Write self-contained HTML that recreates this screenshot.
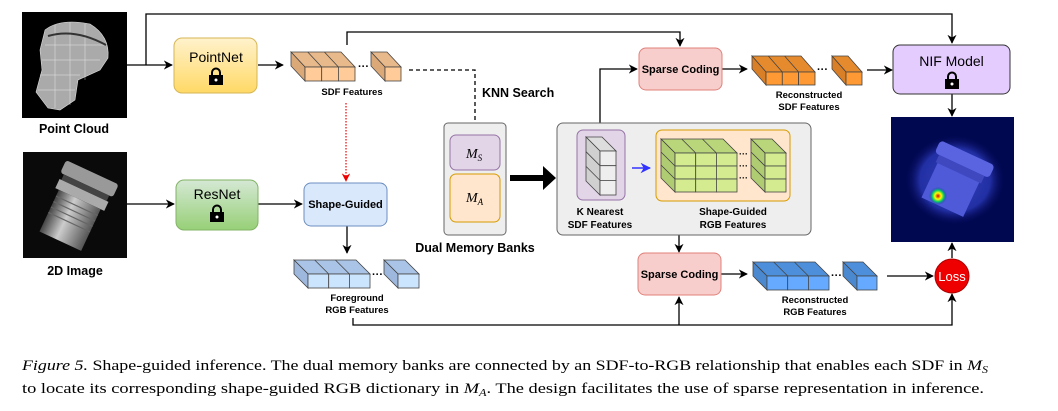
<!DOCTYPE html>
<html><head><meta charset="utf-8"><style>
html,body{margin:0;padding:0;background:#fff;width:1058px;height:411px;overflow:hidden}
svg{display:block}
.b{font-family:"Liberation Sans",sans-serif;font-weight:bold;fill:#000}
.n{font-family:"Liberation Sans",sans-serif;font-size:14px;fill:#000}
.cap{font-family:"Liberation Serif",serif;fill:#000}
</style></head><body>
<svg width="1058" height="411" viewBox="0 0 1058 411" xmlns="http://www.w3.org/2000/svg">
<defs>
<marker id="ar" viewBox="0 0 10 10" refX="9" refY="5" markerWidth="7" markerHeight="7" orient="auto-start-reverse"><path d="M0,0 L10,5 L0,10 L3,5 z" fill="#000"/></marker>
<marker id="arr" viewBox="0 0 10 10" refX="9" refY="5" markerWidth="7" markerHeight="7" orient="auto"><path d="M0,0 L10,5 L0,10 L3,5 z" fill="#e00"/></marker>
<marker id="arb" viewBox="0 0 10 10" refX="9" refY="5" markerWidth="7" markerHeight="7" orient="auto"><path d="M0,0 L10,5 L0,10 L3,5 z" fill="#33f"/></marker>
<radialGradient id="hot" cx="0.5" cy="0.5" r="0.5"><stop offset="0" stop-color="#c00"/><stop offset="0.35" stop-color="#ff0"/><stop offset="0.65" stop-color="#0c6"/><stop offset="1" stop-color="#22a" stop-opacity="0"/></radialGradient>
<radialGradient id="glow" cx="0.5" cy="0.5" r="0.5"><stop offset="0" stop-color="#4a5ae8"/><stop offset="0.7" stop-color="#3040c8"/><stop offset="1" stop-color="#0a0a60" stop-opacity="0"/></radialGradient>
<linearGradient id="gy" x1="0" y1="0" x2="0" y2="1"><stop offset="0" stop-color="#fff2cc"/><stop offset="1" stop-color="#ffd966"/></linearGradient>
<linearGradient id="gg" x1="0" y1="0" x2="0" y2="1"><stop offset="0" stop-color="#d5e8d4"/><stop offset="1" stop-color="#97d077"/></linearGradient>
<linearGradient id="cyl" x1="0" y1="0" x2="1" y2="0"><stop offset="0" stop-color="#444"/><stop offset="0.4" stop-color="#ccc"/><stop offset="1" stop-color="#555"/></linearGradient>
</defs>

<rect x="22" y="12" width="105" height="106" fill="#000"/>
<g fill="#aaa" stroke="#ddd" stroke-width="0.6">
<path d="M45,30 Q60,18 90,24 Q110,36 108,58 L100,70 L78,80 L75,100 L60,110 L48,108 L36,92 L42,70 L40,50 Z"/>
</g>
<g stroke="#fff" stroke-width="0.5" opacity="0.7">
<path d="M45,45 L105,45 M42,60 L100,60 M40,75 L80,75 M38,90 L75,90 M55,25 L55,108 M70,22 L70,105 M85,24 L85,80"/>
</g>
<path d="M48,36 Q75,28 106,45" stroke="#333" stroke-width="2" fill="none"/>

<rect x="23" y="152" width="104" height="106" fill="#0a0a0a"/>
<g transform="rotate(25 75 205)">
<rect x="48" y="168" width="58" height="14" rx="3" fill="#999"/>
<rect x="52" y="182" width="50" height="6" fill="#444"/>
<rect x="50" y="188" width="54" height="10" fill="#aaa"/>
<rect x="54" y="198" width="46" height="46" fill="url(#cyl)"/>
<path d="M54,205 H100 M54,211 H100 M54,217 H100 M54,223 H100" stroke="#666" stroke-width="1.2"/>
</g>

<text class="b" x="74" y="133" text-anchor="middle" font-size="12.5">Point Cloud</text>
<text class="b" x="75" y="275" text-anchor="middle" font-size="12.5">2D Image</text>

<g stroke="#000" stroke-width="1.3" fill="none">
<path d="M126,65 H172" marker-end="url(#ar)"/>
<path d="M146,65 V14 H952 V43" marker-end="url(#ar)"/>
<path d="M258,65 H283" marker-end="url(#ar)"/>
<path d="M347,45 V32 H680 V46" marker-end="url(#ar)"/>
<path d="M409,70 H475 V132" stroke-dasharray="4,3" marker-end="url(#ar)"/>
<path d="M127,204 H174" marker-end="url(#ar)"/>
<path d="M258,204 H302" marker-end="url(#ar)"/>
<path d="M347,226 V253" marker-end="url(#ar)"/>
<path d="M600,130 V69 H637" marker-end="url(#ar)"/>
<path d="M722,69 H747" marker-end="url(#ar)"/>
<path d="M867,70 H892" marker-end="url(#ar)"/>
<path d="M952,94 V116" marker-end="url(#ar)"/>
<path d="M679,201 V252" marker-end="url(#ar)"/>
<path d="M721,274 H747" marker-end="url(#ar)"/>
<path d="M887,276 H933" marker-end="url(#ar)"/>
<path d="M952,258 V243" marker-end="url(#ar)"/>
<path d="M353,318 V325 H952 V294" marker-end="url(#ar)"/>
<path d="M679,325 V297" marker-end="url(#ar)"/>
</g>
<path d="M346,103 V181" stroke="#e00" stroke-width="1.2" stroke-dasharray="1.5,1.5" fill="none" marker-end="url(#arr)"/>
<text class="b" x="482" y="97" font-size="12.5">KNN Search</text>

<rect x="174" y="38" width="83" height="55" rx="8" fill="url(#gy)" stroke="#d6b656" stroke-width="1"/>
<text class="n" x="216" y="62" text-anchor="middle">PointNet</text>
<g transform="translate(209,69)"><path d="M3,6 V3.5 A4,4 0 0 1 11,3.5 V6" stroke="#000" stroke-width="2" fill="none"/><rect x="0" y="6" width="14" height="10" fill="#000"/><circle cx="7" cy="11" r="1.5" fill="#fff"/></g>

<rect x="176" y="180" width="82" height="50" rx="8" fill="url(#gg)" stroke="#82b366" stroke-width="1"/>
<text class="n" x="217" y="199" text-anchor="middle">ResNet</text>
<g transform="translate(210,206)"><path d="M3,6 V3.5 A4,4 0 0 1 11,3.5 V6" stroke="#000" stroke-width="2" fill="none"/><rect x="0" y="6" width="14" height="10" fill="#000"/><circle cx="7" cy="11" r="1.5" fill="#fff"/></g>

<rect x="304" y="183" width="83" height="43" rx="7" fill="#dae8fc" stroke="#6c8ebf" stroke-width="1"/>
<text class="b" x="345.5" y="208" text-anchor="middle" font-size="11">Shape-Guided</text>

<g stroke="#444" stroke-width="0.8">
<polygon points="291,52 341,52 355,67 305,67" fill="#e8b98a"/>
<polygon points="291,52 305,67 305,81 291,66" fill="#dba878"/>
<rect x="305" y="67" width="16.7" height="14" fill="#ffcc99"/><rect x="321.7" y="67" width="16.7" height="14" fill="#ffcc99"/><rect x="338.4" y="67" width="16.6" height="14" fill="#ffcc99"/>
<path d="M307.7,52 L321.7,67 M324.4,52 L338.4,67" fill="none"/>
<polygon points="371,52 387,52 401,67 385,67" fill="#e8b98a"/>
<polygon points="371,52 385,67 385,81 371,66" fill="#dba878"/>
<rect x="385" y="67" width="16" height="14" fill="#ffcc99"/>
</g>
<text class="b" x="358" y="70" font-size="11">···</text>
<text class="b" x="352" y="95" text-anchor="middle" font-size="9.5">SDF Features</text>

<g stroke="#444" stroke-width="0.8">
<polygon points="294,260 356,260 370,274 308,274" fill="#a9c4e6"/>
<polygon points="294,260 308,274 308,288 294,274" fill="#9db8dc"/>
<rect x="308" y="274" width="20.7" height="14" fill="#cce5ff"/><rect x="328.7" y="274" width="20.7" height="14" fill="#cce5ff"/><rect x="349.4" y="274" width="20.6" height="14" fill="#cce5ff"/>
<path d="M314.7,260 L328.7,274 M335.4,260 L349.4,274" fill="none"/>
<polygon points="384,260 405,260 419,274 398,274" fill="#a9c4e6"/>
<polygon points="384,260 398,274 398,288 384,274" fill="#9db8dc"/>
<rect x="398" y="274" width="21" height="14" fill="#cce5ff"/>
</g>
<text class="b" x="372" y="278" font-size="11">···</text>
<text class="b" x="357" y="301" text-anchor="middle" font-size="9.5">Foreground</text>
<text class="b" x="357" y="313" text-anchor="middle" font-size="9.5">RGB Features</text>

<rect x="444" y="123" width="62" height="112" rx="4" fill="#eee" stroke="#666" stroke-width="1"/>
<rect x="450" y="135" width="50" height="35" rx="6" fill="#e1d5e7" stroke="#9673a6"/>
<rect x="450" y="174" width="50" height="48" rx="6" fill="#ffe6cc" stroke="#d79b00"/>
<text x="466" y="158" font-family="Liberation Serif,serif" font-style="italic" font-size="14">M<tspan font-size="9" dy="3">S</tspan></text>
<text x="466" y="202" font-family="Liberation Serif,serif" font-style="italic" font-size="14">M<tspan font-size="9" dy="3">A</tspan></text>
<text class="b" x="475" y="252" text-anchor="middle" font-size="12.5">Dual Memory Banks</text>
<polygon points="510,175 543,175 543,166 556,178 543,190 543,181 510,181" fill="#000"/>

<rect x="557" y="123" width="254" height="112" rx="6" fill="#eee" stroke="#666" stroke-width="1"/>
<rect x="577" y="130" width="48" height="70" rx="6" fill="#e1d5e7" stroke="#9673a6"/>
<g stroke="#444" stroke-width="0.8">
<polygon points="586,137 602,137 616,151 600,151" fill="#ddd"/>
<polygon points="586,137 600,151 600,195 586,181" fill="#d0d0d0"/>
<rect x="600" y="151" width="16" height="14.7" fill="#eee"/><rect x="600" y="165.7" width="16" height="14.7" fill="#eee"/><rect x="600" y="180.4" width="16" height="14.6" fill="#eee"/>
<path d="M586,151.7 L600,165.7 M586,166.4 L600,180.4" fill="none"/>
</g>
<path d="M632,168 H650" stroke="#33f" stroke-width="1.5" marker-end="url(#arb)"/>
<rect x="656" y="130" width="134" height="71" rx="6" fill="#ffe6cc" stroke="#d79b00"/>
<g stroke="#444" stroke-width="0.8">
<polygon points="661,139 723,139 737,153 675,153" fill="#b9d67a"/>
<polygon points="661,139 675,153 675,192 661,178" fill="#b0cc72"/>
<g fill="#d4ec8f">
<rect x="675" y="153" width="20.7" height="13"/><rect x="695.7" y="153" width="20.7" height="13"/><rect x="716.4" y="153" width="20.6" height="13"/>
<rect x="675" y="166" width="20.7" height="13"/><rect x="695.7" y="166" width="20.7" height="13"/><rect x="716.4" y="166" width="20.6" height="13"/>
<rect x="675" y="179" width="20.7" height="13"/><rect x="695.7" y="179" width="20.7" height="13"/><rect x="716.4" y="179" width="20.6" height="13"/>
</g>
<path d="M681.7,139 L695.7,153 M702.4,139 L716.4,153 M661,152 L675,166 M661,165 L675,179" fill="none"/>
<polygon points="751,139 772,139 786,153 765,153" fill="#b9d67a"/>
<polygon points="751,139 765,153 765,192 751,178" fill="#b0cc72"/>
<rect x="765" y="153" width="21" height="13" fill="#d4ec8f"/><rect x="765" y="166" width="21" height="13" fill="#d4ec8f"/><rect x="765" y="179" width="21" height="13" fill="#d4ec8f"/>
<path d="M751,152 L765,166 M751,165 L765,179" fill="none"/>
</g>
<text class="b" x="739" y="157" font-size="9">···</text>
<text class="b" x="739" y="169" font-size="9">···</text>
<text class="b" x="739" y="181" font-size="9">···</text>
<text class="b" x="600" y="215" text-anchor="middle" font-size="10">K Nearest</text>
<text class="b" x="600" y="228" text-anchor="middle" font-size="10">SDF Features</text>
<text class="b" x="733" y="215" text-anchor="middle" font-size="10">Shape-Guided</text>
<text class="b" x="733" y="228" text-anchor="middle" font-size="10">RGB Features</text>

<rect x="639" y="48" width="83" height="42" rx="7" fill="#f8cecc" stroke="#e0807a"/>
<text class="b" x="680.5" y="73" text-anchor="middle" font-size="11">Sparse Coding</text>
<rect x="638" y="253" width="83" height="42" rx="7" fill="#f8cecc" stroke="#e0807a"/>
<text class="b" x="679.5" y="278" text-anchor="middle" font-size="11">Sparse Coding</text>

<g stroke="#444" stroke-width="0.8">
<polygon points="752,56 801,56 815,72 766,72" fill="#e68a2e"/>
<polygon points="752,56 766,72 766,85 752,69" fill="#d97f28"/>
<rect x="766" y="72" width="16.3" height="13" fill="#ff9933"/><rect x="782.3" y="72" width="16.3" height="13" fill="#ff9933"/><rect x="798.6" y="72" width="16.4" height="13" fill="#ff9933"/>
<path d="M768.3,56 L782.3,72 M784.6,56 L798.6,72" fill="none"/>
<polygon points="832,56 848,56 862,72 846,72" fill="#e68a2e"/>
<polygon points="832,56 846,72 846,85 832,69" fill="#d97f28"/>
<rect x="846" y="72" width="16" height="13" fill="#ff9933"/>
</g>
<text class="b" x="817" y="73" font-size="11">···</text>
<text class="b" x="809" y="98" text-anchor="middle" font-size="9.5">Reconstructed</text>
<text class="b" x="809" y="110" text-anchor="middle" font-size="9.5">SDF Features</text>

<g stroke="#444" stroke-width="0.8">
<polygon points="753,262 815,262 829,276 767,276" fill="#4d8fdb"/>
<polygon points="753,262 767,276 767,290 753,276" fill="#4a88d0"/>
<rect x="767" y="276" width="20.7" height="14" fill="#66aaff"/><rect x="787.7" y="276" width="20.7" height="14" fill="#66aaff"/><rect x="808.4" y="276" width="20.6" height="14" fill="#66aaff"/>
<path d="M773.7,262 L787.7,276 M794.4,262 L808.4,276" fill="none"/>
<polygon points="843,262 863,262 877,276 857,276" fill="#4d8fdb"/>
<polygon points="843,262 857,276 857,290 843,276" fill="#4a88d0"/>
<rect x="857" y="276" width="20" height="14" fill="#66aaff"/>
</g>
<text class="b" x="831" y="279" font-size="11">···</text>
<text class="b" x="815" y="303" text-anchor="middle" font-size="9.5">Reconstructed</text>
<text class="b" x="815" y="315" text-anchor="middle" font-size="9.5">RGB Features</text>

<rect x="893" y="45" width="117" height="49" rx="7" fill="#e5ccff" stroke="#333" stroke-width="1"/>
<text class="n" x="951.5" y="66" text-anchor="middle">NIF Model</text>
<g transform="translate(945,73)"><path d="M3,6 V3.5 A4,4 0 0 1 11,3.5 V6" stroke="#000" stroke-width="2" fill="none"/><rect x="0" y="6" width="14" height="10" fill="#000"/><circle cx="7" cy="11" r="1.5" fill="#fff"/></g>

<rect x="891" y="117" width="123" height="125" fill="#000850"/>
<ellipse cx="955" cy="180" rx="50" ry="45" fill="url(#glow)" opacity="0.7"/>
<g transform="rotate(25 955 180)">
<rect x="925" y="150" width="60" height="14" rx="4" fill="#5a64e0"/>
<rect x="930" y="164" width="50" height="8" fill="#4048c0"/>
<rect x="932" y="172" width="46" height="38" fill="#4f5ad8"/>
</g>
<circle cx="938" cy="196" r="9" fill="url(#hot)"/>

<circle cx="952" cy="276" r="17" fill="#e00" stroke="#a00"/>
<text x="952" y="281" text-anchor="middle" font-family="Liberation Sans,sans-serif" font-size="13" fill="#fff">Loss</text>

<text class="cap" x="22" y="370" font-size="15" textLength="966" lengthAdjust="spacingAndGlyphs"><tspan font-style="italic">Figure 5.</tspan> Shape-guided inference. The dual memory banks are connected by an SDF-to-RGB relationship that enables each SDF in <tspan font-style="italic">M</tspan><tspan font-style="italic" font-size="10" dy="3">S</tspan></text>
<text class="cap" x="22" y="393" font-size="15" textLength="962" lengthAdjust="spacingAndGlyphs">to locate its corresponding shape-guided RGB dictionary in <tspan font-style="italic">M</tspan><tspan font-style="italic" font-size="10" dy="3">A</tspan><tspan dy="-3">. The design facilitates the use of sparse representation in inference.</tspan></text>
</svg>
</body></html>
